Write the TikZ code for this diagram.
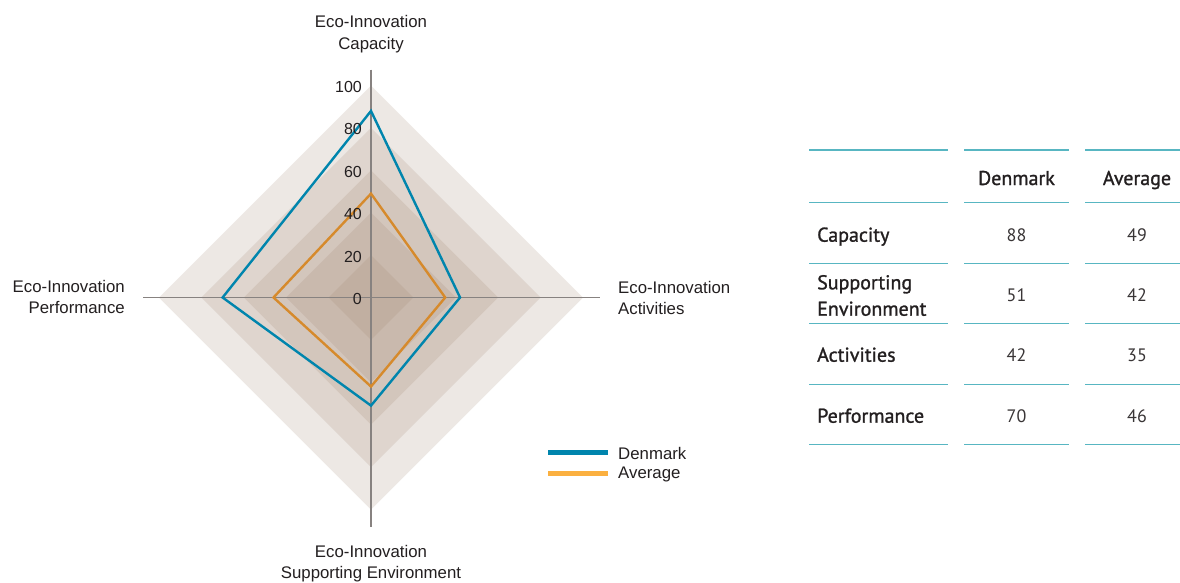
\documentclass[tikz,border=0pt]{standalone}
\usepackage{fontspec}
\setmainfont{Liberation Sans}
\newfontfamily\tabfont{PT Sans}
\newfontfamily\tabfontm[FakeBold=1.2]{PT Sans}
\definecolor{txt}{RGB}{35,31,32}
\definecolor{axisgray}{RGB}{135,130,128}
\definecolor{layerc}{RGB}{160,130,110}
\definecolor{dkblue}{RGB}{0,133,173}
\definecolor{avgline}{RGB}{214,138,44}
\definecolor{avgleg}{RGB}{251,176,64}
\definecolor{tabline}{RGB}{88,182,194}
\begin{document}
\begin{tikzpicture}[x=1pt,y=-1pt,
  lbl/.style={font=\fontsize{16.8}{21.5}\selectfont, text=txt, inner sep=0pt, align=center},
  tick/.style={font=\fontsize{16}{18}\selectfont, text=txt, inner sep=0pt, anchor=east},
  layer/.style={fill=layerc, fill opacity=0.18},
  axisline/.style={draw=axisgray, line width=1.2pt},
  series/.style={line width=2.4pt, line join=miter},
  legline/.style={line width=5pt},
  tline/.style={draw=tabline, line width=1.3pt},
  ttop/.style={draw=tabline, line width=2.3pt},
  thead/.style={font=\tabfontm\fontsize{20}{24}\selectfont, text=txt, inner sep=0pt, anchor=base},
  trow/.style={font=\tabfontm\fontsize{20}{26.4}\selectfont, text=txt, inner sep=0pt, anchor=base west, align=left},
  tval/.style={font=\tabfont\fontsize{18}{22}\selectfont, text=txt!90, inner sep=0pt, anchor=base}]
\useasboundingbox (0,0) rectangle (1180,582);
\fill[white] (0,0) rectangle (1180,582);
\begin{scope}[shift={(371,297.5)}]
  \foreach \r in {100,80,60,40,20} {
    \fill[layer] (-2.12*\r,0) -- (0,-2.12*\r) -- (2.12*\r,0) -- (0,2.12*\r) -- cycle;
  }
  \draw[axisline] (-228,0) -- (229,0);
  \draw[axisline] (0,-228) -- (0,229);
  % Average
  \draw[series, draw=avgline] (0,-2.12*49) -- (2.12*35,0) -- (0,2.12*42) -- (-2.12*46,0) -- cycle;
  % Denmark
  \draw[series, draw=dkblue] (0,-2.12*88) -- (2.12*42,0) -- (0,2.12*51) -- (-2.12*70,0) -- cycle;
  \foreach \v in {0,20,40,60,80,100} {
    \node[tick] (t\v) at (-9,-2.12*\v+1.5) {\v};
  }
\end{scope}
% axis labels
\node[lbl] (capL) at (371,34) {Eco-Innovation\\Capacity};
\node[lbl, align=left, anchor=west] (actL) at (618,298) {Eco-Innovation\\Activities};
\node[lbl, align=right, anchor=east] (perL) at (125,297) {Eco-Innovation\\Performance};
\node[lbl] (supL) at (371,563.5) {Eco-Innovation\\Supporting Environment};
% legend
\coordinate (ld1) at (548,452.7);
\coordinate (ld2) at (608,452.7);
\coordinate (la1) at (548,473.7);
\coordinate (la2) at (608,473.7);
\draw[legline, draw=dkblue] (ld1) -- (ld2);
\draw[legline, draw=avgleg] (la1) -- (la2);
\node[lbl, anchor=west] (legD) at (618,453) {Denmark};
\node[lbl, anchor=west] (legA) at (618,474.5) {Average};
% table lines
\draw[ttop] (809,150) -- (948,150);
\draw[ttop] (964,150) -- (1069,150);
\draw[ttop] (1085,150) -- (1180,150);
\foreach \y in {202.7,263.3,323.3,384.3,444.3} {
  \draw[tline] (809,\y) -- (948,\y);
  \draw[tline] (964,\y) -- (1069,\y);
  \draw[tline] (1085,\y) -- (1180,\y);
}
% table text
\node[thead] (hD) at (1016.5,185) {Denmark};
\node[thead] (hA) at (1137,185) {Average};
\node[trow] (rC) at (817,241.7) {Capacity};
\node[trow] (rS) at (817,315.7) {Supporting\\Environment};
\node[trow] (rA) at (817,361.7) {Activities};
\node[trow] (rP) at (817,422.7) {Performance};
\node[tval] (vC1) at (1016.5,241.7) {88};
\node[tval] (vC2) at (1137,241.7) {49};
\node[tval] (vS1) at (1016.5,301.7) {51};
\node[tval] (vS2) at (1137,301.7) {42};
\node[tval] (vA1) at (1016.5,361.7) {42};
\node[tval] (vA2) at (1137,361.7) {35};
\node[tval] (vP1) at (1016.5,422.7) {70};
\node[tval] (vP2) at (1137,422.7) {46};
\end{tikzpicture}
\end{document}
